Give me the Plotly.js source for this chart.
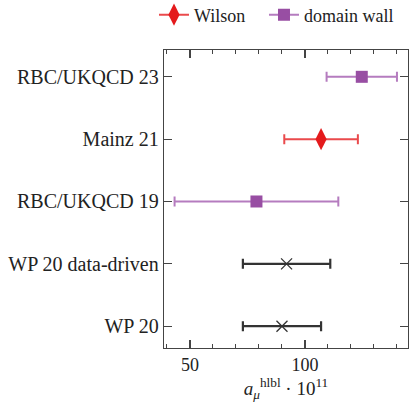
<!DOCTYPE html>
<html><head><meta charset="utf-8">
<script src="https://cdn.plot.ly/plotly-3.0.1.min.js"></script>
<style>body{margin:0;padding:0;background:#fff}</style>
</head><body>
<div id="chart" style="width:409px;height:404px"></div>
<script>
const categories = ["WP 20", "WP 20 data-driven", "RBC/UKQCD 19", "Mainz 21", "RBC/UKQCD 23"];

const wilsonLabels = ["Mainz 21"];
const wilsonValues = [107.0];
const wilsonErrors = [16.0];

const dwLabels = ["RBC/UKQCD 23", "RBC/UKQCD 19"];
const dwValues = [124.7, 78.9];
const dwErrors = [15.3, 35.6];

const wpLabels = ["WP 20 data-driven", "WP 20"];
const wpValues = [92.0, 90.0];
const wpErrors = [19.0, 17.0];

const FONT = "'Liberation Serif', 'DejaVu Serif', serif";
const red = "#e41a1c", redBar = "#ea4a4c";
const purple = "#984ea3", purpleBar = "#b57cbf";
const dark = "#333333";

const traces = [
  { x: wpValues, y: wpLabels, type: "scatter", mode: "markers", showlegend: false,
    marker: { symbol: "x-thin-open", size: 11, color: dark, line: { color: dark, width: 1.3 } },
    error_x: { type: "data", array: wpErrors, visible: true, color: dark, thickness: 2.2, width: 5 } },
  { x: dwValues, y: dwLabels, type: "scatter", mode: "markers", showlegend: false,
    marker: { symbol: "square", size: 12, color: purple },
    error_x: { type: "data", array: dwErrors, visible: true, color: purpleBar, thickness: 2, width: 5 } },
  { x: wilsonValues, y: wilsonLabels, type: "scatter", mode: "markers", showlegend: false,
    marker: { symbol: "diamond-tall", size: 16, color: red },
    error_x: { type: "data", array: wilsonErrors, visible: true, color: redBar, thickness: 2, width: 5 } },
  { x: [null], y: [null], type: "scatter", mode: "lines+markers", name: "Wilson", legendwidth: 65,
    marker: { symbol: "diamond-tall", size: 16, color: red }, line: { color: redBar, width: 2 } },
  { x: [null], y: [null], type: "scatter", mode: "lines+markers", name: "domain wall", legendwidth: 90,
    marker: { symbol: "square", size: 12, color: purple }, line: { color: purpleBar, width: 2 } }
];

const layout = {
  width: 409, height: 404,
  margin: { l: 164, r: 1, t: 50, b: 56 },
  paper_bgcolor: "#fff", plot_bgcolor: "#fff",
  font: { family: FONT, size: 16, color: "#222" },
  showlegend: true,
  legend: { orientation: "h", xref: "container", yref: "container",
            x: 0.3765, y: 0.963, xanchor: "left", yanchor: "middle",
            font: { family: FONT, size: 18, color: "#222" }, itemwidth: 30,
            bgcolor: "rgba(0,0,0,0)" },
  xaxis: {
    range: [38.7, 144.8], showgrid: false, zeroline: false,
    showline: true, linecolor: "#444", linewidth: 1.3, mirror: "ticks",
    ticks: "inside", ticklen: 8, tickcolor: "#444", tickwidth: 1.2,
    tickvals: [50, 100], ticktext: ["50", "100"],
    tickfont: { family: FONT, size: 18, color: "#222" },
    minor: { dtick: 10, tick0: 0, ticks: "inside", ticklen: 4, tickcolor: "#444", tickwidth: 1 },
    title: { text: "<i>a</i><sub><i>μ</i></sub><sup>hlbl</sup> · 10<sup>11</sup>", standoff: 4,
             font: { family: FONT, size: 19, color: "#222" } }
  },
  yaxis: {
    type: "category", categoryorder: "array", categoryarray: categories,
    range: [-0.35, 4.43], showgrid: false, zeroline: false,
    showline: true, linecolor: "#444", linewidth: 1.3, mirror: "ticks",
    ticks: "inside", ticklen: 8, tickcolor: "#444", tickwidth: 1.2,
    tickfont: { family: FONT, size: 20, color: "#222" }, ticklabelstandoff: 0
  }
};

Plotly.newPlot("chart", traces, layout, { displayModeBar: false, staticPlot: true });
</script>
</body></html>
